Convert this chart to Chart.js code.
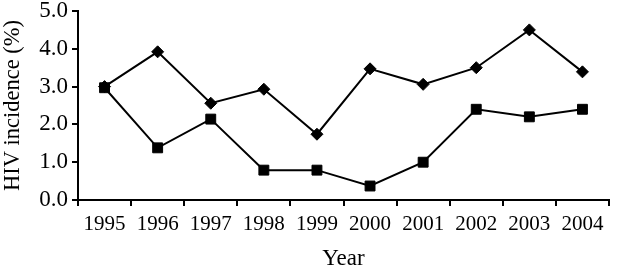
<!DOCTYPE html>
<html>
<head>
<meta charset="utf-8">
<script src="https://cdn.jsdelivr.net/npm/chart.js@4/dist/chart.umd.min.js"></script>
<style>
html,body{margin:0;padding:0;background:#fff;}
#wrap{width:617px;height:269px;position:relative;}
</style>
</head>
<body>
<div id="wrap"><canvas id="c"></canvas></div>
<script>
const years = ['1995','1996','1997','1998','1999','2000','2001','2002','2003','2004'];
const seriesDiamond = [3.0, 3.92, 2.56, 2.93, 1.74, 3.47, 3.06, 3.5, 4.5, 3.39];
const seriesSquare = [2.97, 1.38, 2.14, 0.79, 0.79, 0.37, 1.0, 2.4, 2.2, 2.4];
const yTitle = 'HIV incidence (%)';
const xTitle = 'Year';

const FONT = "'Liberation Serif', 'Times New Roman', serif";

new Chart(document.getElementById('c'), {
  type: 'line',
  data: {
    labels: years,
    datasets: [
      {
        data: seriesDiamond,
        borderColor: '#000',
        backgroundColor: '#000',
        borderWidth: 2,
        pointStyle: 'rectRot',
        pointRadius: 6,
        pointBorderWidth: 1,
        tension: 0
      },
      {
        data: seriesSquare,
        borderColor: '#000',
        backgroundColor: '#000',
        borderWidth: 2,
        pointStyle: 'rect',
        pointRadius: 7,
        pointBorderWidth: 1,
        tension: 0
      }
    ]
  },
  options: {
    responsive: true,
    maintainAspectRatio: false,
    animation: false,
    layout: { padding: { top: 11, right: 1, left: 0, bottom: 0 } },
    plugins: { legend: { display: false }, tooltip: { enabled: false } },
    scales: {
      x: {
        type: 'category',
        offset: true,
        grid: { display: true, drawOnChartArea: false, drawTicks: true, tickLength: 6, color: '#000', lineWidth: 2, offset: true },
        border: { display: true, color: '#000', width: 2 },
        ticks: { color: '#000', font: { family: FONT, size: 21 }, padding: 6, maxRotation: 0, autoSkip: false },
        title: { display: true, text: xTitle, color: '#000', font: { family: FONT, size: 23 }, padding: { top: 6, bottom: -4 } },
        afterFit: (s) => { s.height = 69; s.paddingLeft = 0; s.paddingRight = 0; }
      },
      y: {
        min: 0, max: 5,
        ticks: { stepSize: 1, color: '#000', font: { family: FONT, size: 23 }, padding: 4, callback: (v) => Number(v).toFixed(1) },
        grid: { display: true, drawOnChartArea: false, drawTicks: true, tickLength: 6, color: '#000', lineWidth: 2 },
        border: { display: true, color: '#000', width: 2 },
        title: { display: true, text: yTitle, color: '#000', font: { family: FONT, size: 22.5 }, padding: { top: 0, bottom: 4 } },
        afterFit: (s) => { s.width = 78; s.paddingTop = 0; s.paddingBottom = 0; }
      }
    }
  }
});
</script>
</body>
</html>
